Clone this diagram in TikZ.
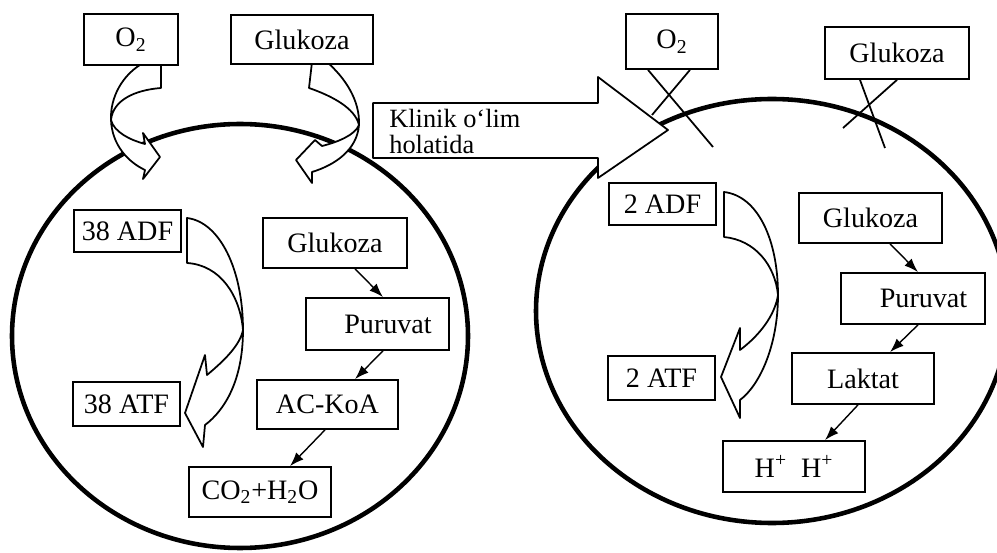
\documentclass[tikz,border=0pt]{standalone}
\usepackage{fontspec}
\setmainfont{Liberation Serif}
\usetikzlibrary{arrows.meta,calc}
\newcommand\PX{0.02cm}
\newcommand\bx[6]{\node[box, minimum width=#4*\PX, minimum height=#5*\PX] (#1) at (#2,#3) {#6};}
\begin{document}
\begin{tikzpicture}[x=0.02cm,y=-0.02cm,
  box/.style={draw, fill=white, line width=1pt, inner sep=0pt, font=\fontsize{16}{18}\selectfont},
  ring/.style={line width=2.6pt},
  blockarrow/.style={draw, fill=white, line width=1pt, line join=round},
  flow/.style={line width=0.8pt, -{Latex[length=2.8mm,width=2mm]}},
  cross/.style={line width=1pt}]
\useasboundingbox (0,0) rectangle (997,553);
\clip (0,0) rectangle (997,553);

% cells
\draw[ring] (240,336) ellipse [x radius=228, y radius=212];
\draw[ring] (772,311) ellipse [x radius=236, y radius=212];

% big arrow
\draw[blockarrow] (373,103) -- (598,103) -- (598,77) -- (668,130) -- (598,178) -- (598,158) -- (373,158) -- cycle;
\node[anchor=north west, inner sep=0pt, align=left, font=\fontsize{15}{14.8}\selectfont] (klin) at (389,109) {Klinik o‘lim\\holatida};

% curved arrow O2 -> left cell
\draw[blockarrow] (161,62) -- (145,62) .. controls (122,74) and (110,98) .. (111,120)
  .. controls (112,145) and (128,162) .. (145,170) -- (143,179) -- (160,157) -- (143,133) -- (145,144)
  .. controls (130,140) and (114,132) .. (111,120) .. controls (113,100) and (135,90) .. (161,88) -- cycle;
% curved arrow Glukoza -> left cell
\draw[blockarrow] (312,62) -- (327,62) .. controls (345,78) and (360,100) .. (359,125)
  .. controls (357,150) and (335,165) .. (312,172) -- (312,183) -- (296,160) -- (315,140) -- (322,146)
  .. controls (338,142) and (355,135) .. (359,125) .. controls (355,108) and (332,96) .. (309,88) -- cycle;
% inner curved arrow left
\draw[blockarrow] (187,218) .. controls (220,222) and (243,270) .. (243,330)
  .. controls (243,380) and (225,410) .. (205,425) -- (203,447) -- (185,413) -- (205,355) -- (207,375)
  .. controls (225,360) and (240,345) .. (243,330) .. controls (240,295) and (220,265) .. (187,263) -- cycle;
% inner curved arrow right
\draw[blockarrow] (724,192) .. controls (758,196) and (778,240) .. (778,295)
  .. controls (778,345) and (760,385) .. (740,400) -- (740,418) -- (721,377) -- (740,328) -- (740,350)
  .. controls (760,335) and (775,315) .. (778,295) .. controls (775,265) and (755,240) .. (724,237) -- cycle;

% left boxes
\bx{o2L}{131}{39.5}{94}{51}{O\textsubscript{2}}
\bx{gluL}{302}{39.5}{142}{49}{Glukoza}
\bx{adfL}{127.5}{231}{107}{42}{38 ADF}
\bx{atfL}{126.5}{404}{107}{44}{38 ATF}
\bx{glu2L}{335}{243}{144}{50}{Glukoza}
\bx{purL}{377.5}{324}{143}{52}{\hspace*{12pt}Puruvat}
\bx{acL}{327.5}{404.5}{141}{49}{AC-KoA}
\bx{coL}{260}{492}{142}{50}{CO\textsubscript{2}+H\textsubscript{2}O}

% right boxes
\bx{o2R}{672}{41.5}{92}{55}{O\textsubscript{2}}
\bx{gluR}{897}{53}{144}{52}{Glukoza}
\bx{adfR}{662.5}{204}{107}{42}{2 ADF}
\bx{atfR}{661.5}{378}{107}{44}{2 ATF}
\bx{glu2R}{870.5}{218}{143}{50}{Glukoza}
\bx{purR}{913}{298.5}{144}{51}{\hspace*{12pt}Puruvat}
\bx{lakR}{863}{378.5}{142}{51}{Laktat}
\bx{hR}{794}{466.5}{142}{51}{H\textsuperscript{+}~~H\textsuperscript{+}}

% flow arrows
\draw[flow] ([xshift=20*\PX]glu2L.south) -- ([xshift=5.5*\PX]purL.north);
\draw[flow] ([xshift=5.5*\PX]purL.south) -- ([xshift=27.5*\PX]acL.north);
\draw[flow] ([xshift=-2.5*\PX]acL.south) -- ([xshift=30*\PX]coL.north);
\draw[flow] ([xshift=19.5*\PX]glu2R.south) -- ([xshift=5*\PX]purR.north);
\draw[flow] ([xshift=5*\PX]purR.south) -- ([xshift=27*\PX]lakR.north);
\draw[flow] ([xshift=-5*\PX]lakR.south) -- ([xshift=31*\PX]hR.north);

% crossed-out supply
\coordinate (c1) at (713,147);
\coordinate (c2) at (652,115);
\coordinate (c3) at (885,148);
\coordinate (c4) at (843,128);
\draw[cross] ([xshift=-24*\PX]o2R.south) -- (c1);
\draw[cross] ([xshift=18*\PX]o2R.south) -- (c2);
\draw[cross] ([xshift=-37*\PX]gluR.south) -- (c3);
\draw[cross] (gluR.south) -- (c4);
\end{tikzpicture}
\end{document}
